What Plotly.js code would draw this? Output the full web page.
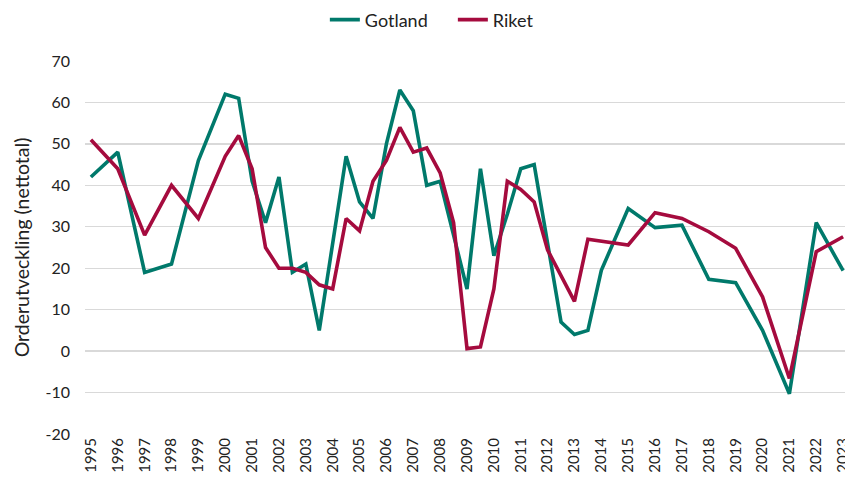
<!DOCTYPE html>
<html>
<head>
<meta charset="utf-8">
<script src="https://cdn.plot.ly/plotly-3.0.1.min.js"></script>
<style>html,body{margin:0;padding:0;background:#fff;}#chart{width:845px;height:485px;}</style>
</head>
<body>
<div id="chart"></div>
<script>
const gotlandX = [1995, 1996, 1997, 1998, 1999, 2000, 2000.5, 2001, 2001.5, 2002, 2002.5, 2003, 2003.5, 2004.5, 2005, 2005.5, 2006, 2006.5, 2007, 2007.5, 2008, 2008.5, 2009, 2009.5, 2010, 2010.5, 2011, 2011.5, 2012, 2012.5, 2013, 2013.5, 2014, 2015, 2016, 2017, 2018, 2019, 2020, 2021, 2022, 2023];
const gotlandY = [42, 48, 19, 21, 46, 62, 61, 41, 31, 42, 19, 21, 5, 47, 36, 32, 50, 63, 58, 40, 41, 28, 15, 44, 23, 33, 44, 45, 26, 7, 4, 5, 19.5, 34.4, 29.8, 30.4, 17.3, 16.5, 5, -10.3, 31, 19.4];
const riketX = [1995, 1996, 1997, 1998, 1999, 2000, 2000.5, 2001, 2001.5, 2002, 2002.5, 2003, 2003.5, 2004, 2004.5, 2005, 2005.5, 2006, 2006.5, 2007, 2007.5, 2008, 2008.5, 2009, 2009.5, 2010, 2010.5, 2011, 2011.5, 2012, 2013, 2013.5, 2015, 2016, 2017, 2018, 2019, 2020, 2021, 2022, 2023];
const riketY = [51, 44, 28, 40, 32, 47, 52, 44, 25, 20, 20, 19, 16, 15, 32, 29, 41, 46, 54, 48, 49, 43, 31, 0.6, 1, 15, 41, 39, 36, 24.4, 12, 27, 25.6, 33.4, 32, 28.8, 24.8, 13.1, -6.6, 24, 27.6];
const yearTicks = [1995,1996,1997,1998,1999,2000,2001,2002,2003,2004,2005,2006,2007,2008,2009,2010,2011,2012,2013,2014,2015,2016,2017,2018,2019,2020,2021,2022,2023];
const yearLabels = yearTicks.map(String);
const yTicks = [-20, -10, 0, 10, 20, 30, 40, 50, 60, 70];
const yLabels = ['-20', '-10', '0', '10', '20', '30', '40', '50', '60', '70'];

const font = 'Lato, "Open Sans", sans-serif';
const traces = [
  {x: gotlandX, y: gotlandY, name: 'Gotland', type: 'scatter', mode: 'lines',
   line: {color: '#00796B', width: 3.6}},
  {x: riketX, y: riketY, name: 'Riket', type: 'scatter', mode: 'lines',
   line: {color: '#A50B3E', width: 3.6}}
];
const layout = {
  width: 845, height: 485,
  margin: {l: 85, r: 0, t: 61, b: 51, pad: 0},
  paper_bgcolor: '#fff', plot_bgcolor: '#fff',
  font: {family: font, size: 15, color: '#222'},
  showlegend: true,
  legend: {orientation: 'h', x: 0.3156, xanchor: 'left', y: 0.997, yref: 'container', yanchor: 'top',
           font: {family: font, size: 18, color: '#222'}, entrywidth: 83, entrywidthmode: 'pixels', traceorder: 'normal'},
  xaxis: {type: 'linear', range: [1994.78, 2023.07], tickmode: 'array', tickvals: yearTicks, ticktext: yearLabels,
          tickangle: -90, showgrid: false, zeroline: false, showline: false, ticks: '',
          ticklabeloverflow: 'allow',
          tickfont: {family: font, size: 15, color: '#222'}, automargin: false, fixedrange: true},
  yaxis: {range: [-20, 70], tickmode: 'array', tickvals: yTicks, ticktext: yLabels,
          showgrid: true, gridcolor: '#d9d9d9', gridwidth: 1.3,
          zeroline: false, showline: false, ticks: '', ticklabelstandoff: 14,
          tickfont: {family: font, size: 16, color: '#222'},
          title: {text: 'Orderutveckling (nettotal)', font: {family: font, size: 19.5, color: '#222'}, standoff: 10},
          automargin: false}
};
Plotly.newPlot('chart', traces, layout, {displayModeBar: false, staticPlot: true});
</script>
</body>
</html>
